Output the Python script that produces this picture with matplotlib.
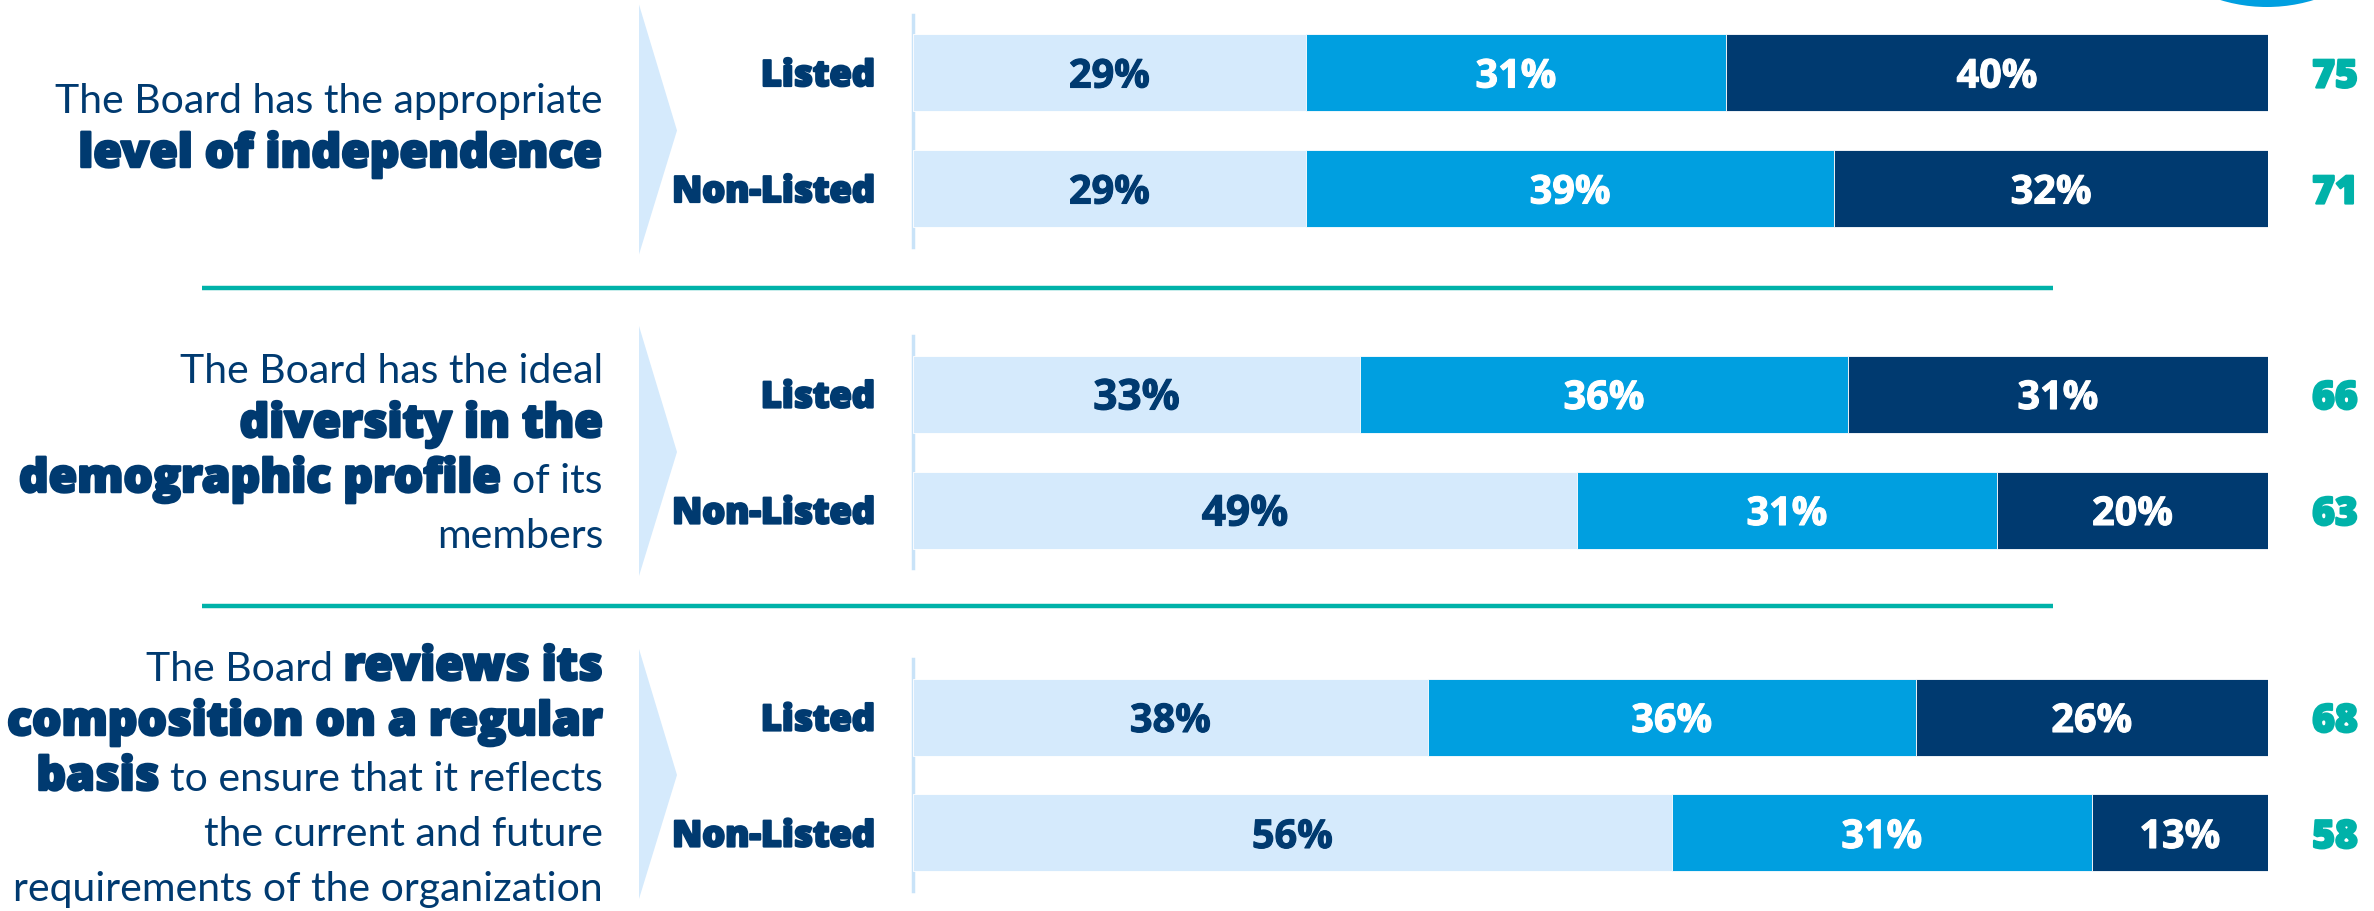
import numpy as np
import matplotlib
import matplotlib.pyplot as plt
import matplotlib.patheffects as pe
from matplotlib.patches import Polygon, Circle
matplotlib.use('Agg')

# data
groups = ['Listed', 'Non-Listed']
low_pct = [[29, 29], [33, 49], [38, 56]]
mid_pct = [[31, 39], [36, 31], [36, 31]]
high_pct = [[40, 32], [31, 20], [26, 13]]
scores = [[75, 71], [66, 63], [68, 58]]

# statement text, line by line, as (text, bold) pieces
statements = [
    [[('The Board has the appropriate', False)],
     [('level of independence', True)]],
    [[('The Board has the ideal', False)],
     [('diversity in the', True)],
     [('demographic profile', True), ('of its', False)],
     [('members', False)]],
    [[('The Board', False), ('reviews its', True)],
     [('composition on a regular', True)],
     [('basis', True), ('to ensure that it reflects', False)],
     [('the current and future', False)],
     [('requirements of the organization', False)]],
]

light = '#D5EAFC'
mid = '#009FE0'
dark = '#003A70'
navy = '#003A70'
teal = '#00B2A9'
thin_font = 'Lato'
bold_font = 'Open Sans'


def heavy(col, w=1.6):
    return [pe.withStroke(linewidth=w, foreground=col)]


W, H = 2374, 912
fig = plt.figure(figsize=(W / 100, H / 100), dpi=100)
bg = fig.add_axes([0, 0, 1, 1])
bg.set_xlim(0, W)
bg.set_ylim(H, 0)
bg.axis('off')

ax = fig.add_axes([913 / W, 0, 1355 / W, 1])
ax.set_xlim(0, 100)
ax.set_ylim(H, 0)
ax.axis('off')

renderer = fig.canvas.get_renderer()

panel_y = [73.5, 395, 718]
row_step = 116
bar_h = 77
text_base = [113, 383, 681]
line_step = 55


def draw_line(pieces, x_right, y):
    x = x_right
    for txt, bold in reversed(pieces):
        if bold:
            t = bg.text(x, y, txt, ha='right', va='baseline', fontsize=33.3,
                        family=bold_font, fontweight=800, color=navy,
                        path_effects=heavy(navy, 1.8))
        else:
            t = bg.text(x, y, txt, ha='right', va='baseline', fontsize=29.5,
                        family=thin_font, fontweight='normal', color=navy)
        x -= t.get_window_extent(renderer).width + 11


for p in range(3):
    c0 = panel_y[p]
    ys = [c0, c0 + row_step]

    # chevron and axis line
    bg.add_patch(Polygon([[639, c0 - 68], [677, c0 + 58], [639, c0 + 182]],
                         closed=True, color=light, lw=0))
    bg.plot([913, 913], [c0 - 58, c0 + 174], color='#C9E3F8', lw=2.5)

    lefts = np.zeros(2)
    for vals, col in [(low_pct[p], light), (mid_pct[p], mid), (high_pct[p], dark)]:
        ax.barh(ys, vals, left=lefts, height=bar_h, color=col, edgecolor='white', linewidth=0.6)
        for y, v, l in zip(ys, vals, lefts):
            big = (p == 1 and col == light)
            tc = navy if col == light else 'white'
            ax.text(l + v / 2, y, f'{v}%', ha='center', va='center_baseline',
                    fontsize=30.5 if big else 28.5, family='Open Sans', fontweight='bold',
                    color=tc, path_effects=heavy(tc, 0.8))
        lefts = lefts + np.array(vals)

    for y, g, s in zip(ys, groups, scores[p]):
        bg.text(875, y, g, ha='right', va='center_baseline', fontsize=26,
                family=bold_font, fontweight=800, color=navy, path_effects=heavy(navy, 1.6))
        bg.text(2335, y, str(s), ha='center', va='center_baseline', fontsize=28,
                family=bold_font, fontweight=800, color=teal, path_effects=heavy(teal, 1.6))

    for i, pieces in enumerate(statements[p]):
        draw_line(pieces, 603, text_base[p] + i * line_step)

# separators
for y in [289, 607]:
    bg.plot([202, 2053], [y, y], color=teal, lw=3.2, solid_capstyle='butt')

# corner circle
bg.add_patch(Circle((2267, -152), 160, color=mid, lw=0))

fig.savefig('out.png', dpi=100)
